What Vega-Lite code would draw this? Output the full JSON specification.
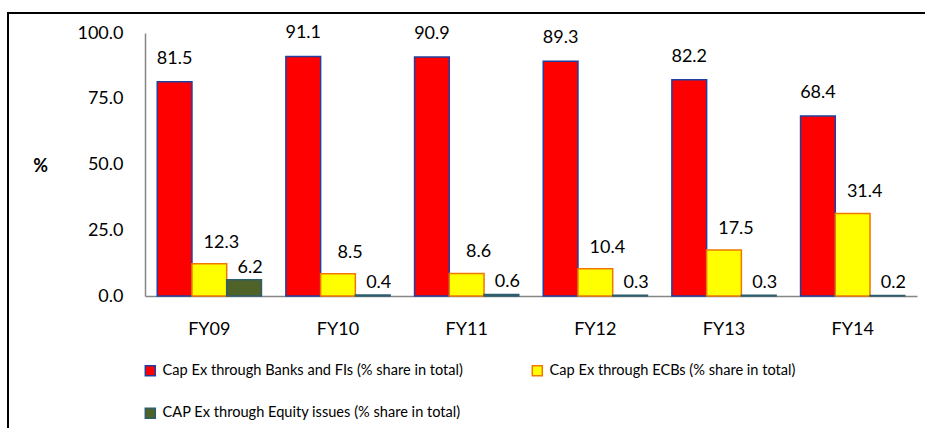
{
  "$schema": "https://vega.github.io/schema/vega-lite/v6.json",
  "width": 917,
  "height": 415,
  "autosize": {"type": "none"},
  "padding": {"left": 8, "top": 13, "right": 0, "bottom": 0},
  "background": "white",
  "config": {
    "font": "Lato",
    "view": {"stroke": "#000000", "strokeWidth": 2, "strokeDash": [917, 1332, 415, 1]},
    "axis": {"grid": false, "ticks": false, "domainColor": "#868686", "domainWidth": 1.5, "labelColor": "#000000", "labelFont": "Lato", "labelFontSize": 18}
  },
  "data": {
    "values": [
      {"year": "FY09", "series": "Cap Ex through Banks and FIs (% share in total)", "value": 81.5},
      {"year": "FY09", "series": "Cap Ex through ECBs (% share in total)", "value": 12.3},
      {"year": "FY09", "series": "CAP Ex through Equity issues (% share in total)", "value": 6.2},
      {"year": "FY10", "series": "Cap Ex through Banks and FIs (% share in total)", "value": 91.1},
      {"year": "FY10", "series": "Cap Ex through ECBs (% share in total)", "value": 8.5},
      {"year": "FY10", "series": "CAP Ex through Equity issues (% share in total)", "value": 0.4},
      {"year": "FY11", "series": "Cap Ex through Banks and FIs (% share in total)", "value": 90.9},
      {"year": "FY11", "series": "Cap Ex through ECBs (% share in total)", "value": 8.6},
      {"year": "FY11", "series": "CAP Ex through Equity issues (% share in total)", "value": 0.6},
      {"year": "FY12", "series": "Cap Ex through Banks and FIs (% share in total)", "value": 89.3},
      {"year": "FY12", "series": "Cap Ex through ECBs (% share in total)", "value": 10.4},
      {"year": "FY12", "series": "CAP Ex through Equity issues (% share in total)", "value": 0.3},
      {"year": "FY13", "series": "Cap Ex through Banks and FIs (% share in total)", "value": 82.2},
      {"year": "FY13", "series": "Cap Ex through ECBs (% share in total)", "value": 17.5},
      {"year": "FY13", "series": "CAP Ex through Equity issues (% share in total)", "value": 0.3},
      {"year": "FY14", "series": "Cap Ex through Banks and FIs (% share in total)", "value": 68.4},
      {"year": "FY14", "series": "Cap Ex through ECBs (% share in total)", "value": 31.4},
      {"year": "FY14", "series": "CAP Ex through Equity issues (% share in total)", "value": 0.2}
    ]
  },
  "encoding": {
    "x": {
      "field": "year", "type": "nominal",
      "scale": {"paddingInner": 0.19, "paddingOuter": 0.095, "range": [137, 909]},
      "axis": {"title": null, "labelAngle": 0, "labelPadding": 24, "offset": -132}
    },
    "xOffset": {
      "field": "series", "type": "nominal",
      "sort": ["Cap Ex through Banks and FIs (% share in total)", "Cap Ex through ECBs (% share in total)", "CAP Ex through Equity issues (% share in total)"],
      "scale": {"paddingInner": 0, "paddingOuter": 0}
    },
    "y": {
      "field": "value", "type": "quantitative",
      "scale": {"domain": [0, 100], "nice": false, "range": [283, 20]},
      "axis": {
        "values": [0, 25, 50, 75, 100], "format": ".1f", "labelPadding": 22, "offset": -137,
        "title": "%", "titleAngle": 0, "titleFontSize": 18, "titleFontWeight": "bold", "titleFont": "Lato",
        "titleX": -105, "titleY": 153, "titleAlign": "center", "titleBaseline": "middle"
      }
    }
  },
  "layer": [
    {
      "mark": {"type": "bar", "strokeWidth": 1.5},
      "encoding": {
        "fill": {
          "field": "series", "type": "nominal",
          "sort": ["Cap Ex through Banks and FIs (% share in total)", "Cap Ex through ECBs (% share in total)", "CAP Ex through Equity issues (% share in total)"],
          "scale": {"range": ["#FF0000", "#FFFF00", "#4F6228"]},
          "legend": {
            "title": null, "orient": "none", "legendX": 135, "legendY": 350, "columns": 2, "direction": "horizontal",
            "columnPadding": 66, "rowPadding": 26, "symbolType": "square", "symbolSize": 100, "symbolStrokeWidth": 1.5,
            "labelFontSize": 14.6, "labelFont": "Lato", "labelColor": "#000000", "labelOffset": 5, "labelLimit": 400,
            "encode": {"symbols": {
              "enter": {"stroke": {"signal": "scale('stroke', datum.value)"}, "strokeWidth": {"value": 1.5}},
              "update": {"stroke": {"signal": "scale('stroke', datum.value)"}, "strokeWidth": {"value": 1.5}}
            }}
          }
        },
        "stroke": {
          "field": "series", "type": "nominal",
          "sort": ["Cap Ex through Banks and FIs (% share in total)", "Cap Ex through ECBs (% share in total)", "CAP Ex through Equity issues (% share in total)"],
          "scale": {"range": ["#2040A0", "#F07800", "#2E5E6E"]},
          "legend": null
        }
      }
    },
    {
      "transform": [{"filter": "datum.series == 'Cap Ex through Banks and FIs (% share in total)'"}],
      "mark": {"type": "text", "fontSize": 18, "dy": -23, "baseline": "middle", "color": "#000000"},
      "encoding": {"text": {"field": "value", "type": "quantitative", "format": ".1f"}}
    },
    {
      "transform": [{"filter": "datum.series == 'Cap Ex through ECBs (% share in total)'"}],
      "mark": {"type": "text", "fontSize": 18, "dy": -21, "dx": 12, "baseline": "middle", "color": "#000000"},
      "encoding": {"text": {"field": "value", "type": "quantitative", "format": ".1f"}}
    },
    {
      "transform": [{"filter": "datum.series == 'CAP Ex through Equity issues (% share in total)'"}],
      "mark": {"type": "text", "fontSize": 18, "dy": -12, "dx": 6, "baseline": "middle", "color": "#000000"},
      "encoding": {"text": {"field": "value", "type": "quantitative", "format": ".1f"}}
    }
  ]
}
